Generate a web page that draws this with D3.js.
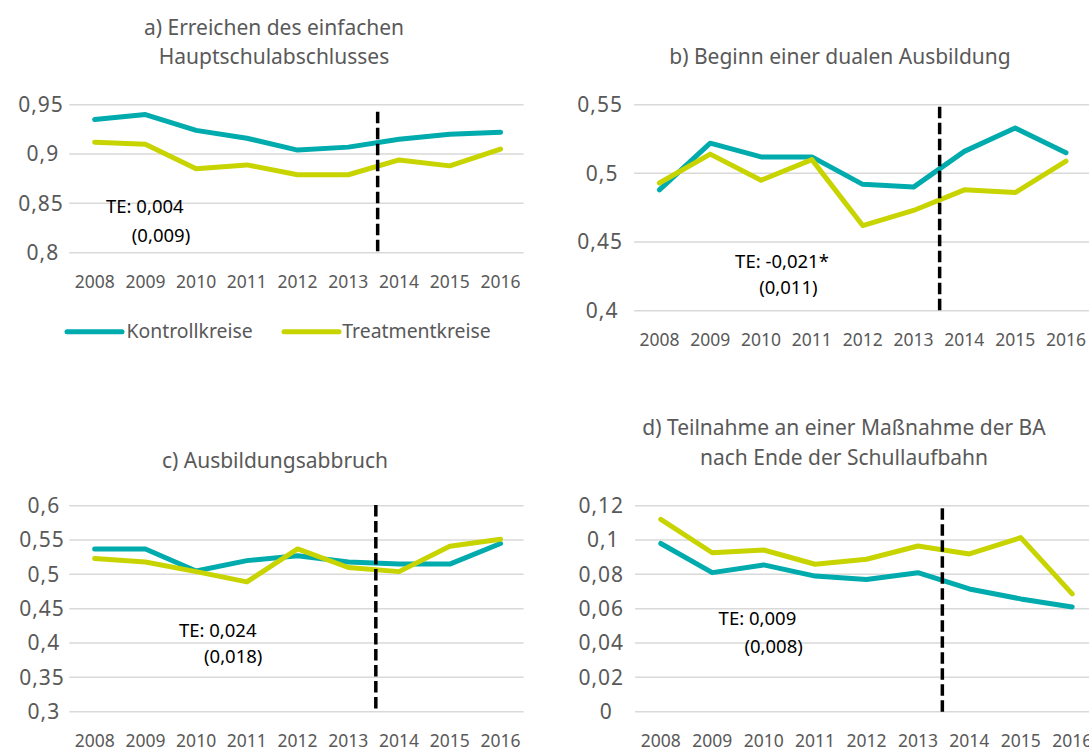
<!DOCTYPE html>
<html>
<head>
<meta charset="utf-8">
<script src="https://cdn.jsdelivr.net/npm/d3@7"></script>
<style>
  body { margin: 0; background: #fff; }
  svg { display: block; font-family: "Noto Sans", sans-serif; }
  .xlab { fill: #595959; font-size: 17.5px; }
  .ylab { fill: #595959; font-size: 21px; letter-spacing: 1px; }
  .title { fill: #595959; font-size: 21px; }
  .te { fill: #000; font-size: 18.5px; }
  .legend-label { fill: #595959; font-size: 19.4px; }
</style>
</head>
<body>
<svg width="1089" height="749"></svg>
<script>
// Jahre auf der x-Achse
const years = [2008, 2009, 2010, 2011, 2012, 2013, 2014, 2015, 2016]
const seriesNames = ["Kontrollkreise", "Treatmentkreise"]

// a) Erreichen des einfachen Hauptschulabschlusses
const kontrollA = [0.935, 0.940, 0.924, 0.916, 0.904, 0.907, 0.915, 0.920, 0.922]
const treatA = [0.912, 0.910, 0.885, 0.889, 0.879, 0.879, 0.894, 0.888, 0.905]
const ticksA = [0.8, 0.85, 0.9, 0.95]

// b) Beginn einer dualen Ausbildung
const kontrollB = [0.488, 0.522, 0.512, 0.512, 0.492, 0.490, 0.516, 0.533, 0.515]
const treatB = [0.493, 0.514, 0.495, 0.510, 0.462, 0.473, 0.488, 0.486, 0.509]
const ticksB = [0.4, 0.45, 0.5, 0.55]

// c) Ausbildungsabbruch
const kontrollC = [0.537, 0.537, 0.505, 0.520, 0.527, 0.518, 0.515, 0.515, 0.545]
const treatC = [0.523, 0.518, 0.504, 0.489, 0.537, 0.510, 0.504, 0.541, 0.551]
const ticksC = [0.3, 0.35, 0.4, 0.45, 0.5, 0.55, 0.6]

// d) Teilnahme an einer Maßnahme der BA
const kontrollD = [0.098, 0.081, 0.0855, 0.079, 0.077, 0.081, 0.0715, 0.0657, 0.061]
const treatD = [0.112, 0.0926, 0.0942, 0.0859, 0.0888, 0.0965, 0.0919, 0.1014, 0.0686]
const ticksD = [0, 0.02, 0.04, 0.06, 0.08, 0.1, 0.12]

// Treatment-Effekte (Text)
const teLabels = ["TE: 0,004", "TE: -0,021*", "TE: 0,024", "TE: 0,009"]
const seLabels = ["(0,009)", "(0,011)", "(0,018)", "(0,008)"]

const colors = ["#00abae", "#c8d400"]

// Anordnung der vier Teilgrafiken
const panels = [
    {
        title: ["a) Erreichen des einfachen", "Hauptschulabschlusses"], titleX: 274, titleY: [35, 64],
        series: [kontrollA, treatA], ticks: ticksA,
        x0: 69.3, x1: 525.9, yTop: 104.7, yBot: 252.7, gridEnd: 523.6, labGap: 5.5,
        dashAt: 5.578, dashTop: 111.7,
        te: [106, 213], se: [131.8, 241.7], legend: true
    },
    {
        title: ["b) Beginn einer dualen Ausbildung"], titleX: 840, titleY: [64],
        series: [kontrollB, treatB], ticks: ticksB,
        x0: 634, x1: 1091.4, yTop: 104.7, yBot: 310.7, gridEnd: 1089, labGap: 11,
        dashAt: 5.514, dashTop: 106.7,
        te: [735.1, 268.3], se: [759.2, 294]
    },
    {
        title: ["c) Ausbildungsabbruch"], titleX: 275, titleY: [468],
        series: [kontrollC, treatC], ticks: ticksC,
        x0: 69.3, x1: 525.9, yTop: 505.7, yBot: 711.7, gridEnd: 523.6, labGap: 4.5,
        dashAt: 5.542, dashTop: 505,
        te: [178.9, 636.7], se: [204, 662.7]
    },
    {
        title: ["d) Teilnahme an einer Maßnahme der BA", "nach Ende der Schullaufbahn"], titleX: 844, titleY: [435, 465],
        series: [kontrollD, treatD], ticks: ticksD,
        x0: 635.1, x1: 1097.9, yTop: 505.7, yBot: 711.7, gridEnd: 1089, labGap: 11,
        dashAt: 5.475, dashTop: 508.3,
        te: [718.6, 625], se: [744.4, 652.7]
    }
]

const locale = d3.formatLocale({ decimal: ",", thousands: ".", grouping: [3], currency: ["", "€"] })
const fmt = locale.format("~")

const svg = d3.select("svg")

panels.forEach((p, i) => {
    const g = svg.append("g")

    const x = d3.scaleBand().domain(years).range([p.x0, p.x1])
    const cx = d => x(d) + x.bandwidth() / 2
    const y = d3.scaleLinear()
        .domain([d3.min(p.ticks), d3.max(p.ticks)])
        .range([p.yBot, p.yTop])

    // Gitterlinien
    g.selectAll(".grid")
        .data(p.ticks)
        .join("line")
        .attr("x1", p.x0)
        .attr("x2", p.gridEnd)
        .attr("y1", d => y(d))
        .attr("y2", d => y(d))
        .attr("stroke", "#d9d9d9")
        .attr("stroke-width", 1.5)

    // y-Achse Beschriftung (kurze Zahlen etwas nach links, wie in Excel)
    const ylabs = g.selectAll(".ylab")
        .data(p.ticks)
        .join("text")
        .attr("class", "ylab")
        .attr("y", d => y(d))
        .attr("dy", "0.35em")
        .attr("text-anchor", "end")
        .text(d => fmt(d))
    const widths = ylabs.nodes().map(n => n.getComputedTextLength())
    const maxW = d3.max(widths)
    ylabs.attr("x", (d, j) => p.x0 - p.labGap - 0.35 * (maxW - widths[j]))

    // x-Achse Beschriftung
    g.selectAll(".xlab")
        .data(years)
        .join("text")
        .attr("class", "xlab")
        .attr("x", d => cx(d))
        .attr("y", p.yBot + 35.5)
        .attr("text-anchor", "middle")
        .text(d => d)

    // Linien
    const line = d3.line()
        .x((d, j) => cx(years[j]))
        .y(d => y(d))
    p.series.forEach((s, k) => {
        g.append("path")
            .datum(s)
            .attr("d", line)
            .attr("fill", "none")
            .attr("stroke", colors[k])
            .attr("stroke-width", 5)
            .attr("stroke-linejoin", "round")
            .attr("stroke-linecap", "round")
    })

    // gestrichelte Linie (Reform)
    const dx = cx(years[0]) + p.dashAt * x.step()
    g.append("line")
        .attr("x1", dx).attr("x2", dx)
        .attr("y1", p.dashTop).attr("y2", p.yBot)
        .attr("stroke", "#000")
        .attr("stroke-width", 3.5)
        .attr("stroke-dasharray", "11.5,4.5")

    // TE-Text
    g.append("text").attr("class", "te").attr("x", p.te[0]).attr("y", p.te[1]).text(teLabels[i])
    g.append("text").attr("class", "te").attr("x", p.se[0]).attr("y", p.se[1]).text(seLabels[i])

    // Titel
    p.title.forEach((t, k) => {
        g.append("text")
            .attr("class", "title")
            .attr("x", p.titleX)
            .attr("y", p.titleY[k])
            .attr("text-anchor", "middle")
            .text(t)
    })

    // Legende
    if (p.legend) {
        const lg = [{ x: 67, tx: 126.5 }, { x: 284, tx: 342.3 }]
        lg.forEach((l, k) => {
            g.append("line")
                .attr("x1", l.x).attr("x2", l.x + 55)
                .attr("y1", 331.7).attr("y2", 331.7)
                .attr("stroke", colors[k])
                .attr("stroke-width", 5)
                .attr("stroke-linecap", "round")
            g.append("text")
                .attr("class", "legend-label")
                .attr("x", l.tx)
                .attr("y", 331.7)
                .attr("dy", "0.35em")
                .text(seriesNames[k])
        })
    }
})
</script>
</body>
</html>
